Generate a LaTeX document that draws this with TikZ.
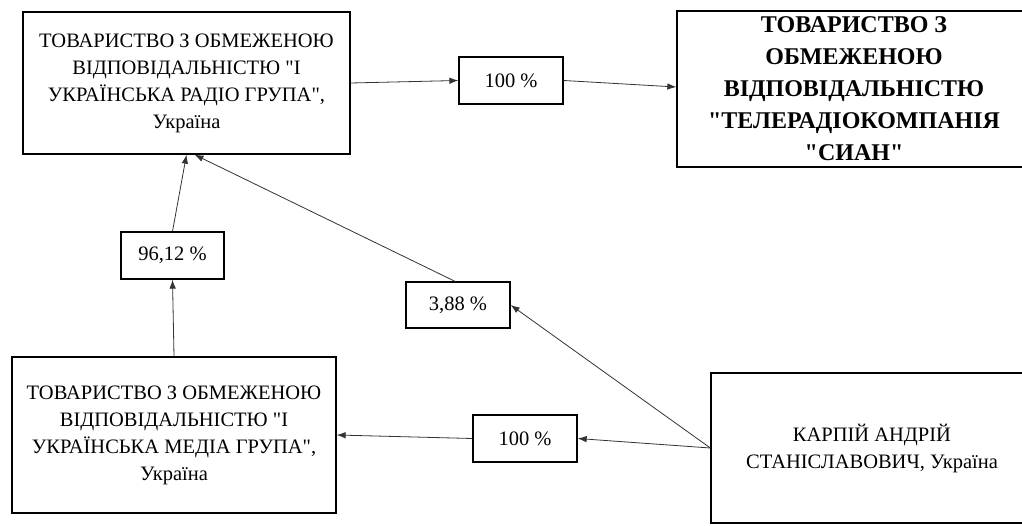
\documentclass[tikz,border=0pt]{standalone}
\usepackage{fontspec}
\setmainfont{Liberation Serif}[Ligatures=TeXOff]
\usetikzlibrary{arrows.meta}
\tikzset{
  bigbox/.style={draw=black, line width=1.3pt, fill=white, align=center, inner sep=0pt,
     font=\fontsize{20.5}{27}\selectfont},
  boldbox/.style={bigbox, font=\fontsize{24}{32}\selectfont\bfseries},
  pctbox/.style={draw=black, line width=1.3pt, fill=white, align=center, inner sep=0pt,
     minimum width=104pt, minimum height=47pt, font=\fontsize{20.5}{24}\selectfont},
  conn/.style={draw=black!80, line width=0.8pt, -{Latex[length=9pt,width=6.5pt]}}
}
\begin{document}
\begin{tikzpicture}[x=1pt,y=1pt]
\useasboundingbox (0,0) rectangle (1022,525);
\clip (0,0) rectangle (1022,525);
\fill[white] (0,0) rectangle (1022,525);
% main boxes
\node[bigbox, minimum width=327pt, minimum height=142pt] (A) at (186.5,442)
  {ТОВАРИСТВО З ОБМЕЖЕНОЮ\\ВІДПОВІДАЛЬНІСТЮ "І\\УКРАЇНСЬКА РАДІО ГРУПА",\\Україна};
\node[boldbox, minimum width=354pt, minimum height=156pt] (B) at (854,436)
  {ТОВАРИСТВО З\\ОБМЕЖЕНОЮ\\ВІДПОВІДАЛЬНІСТЮ\\"ТЕЛЕРАДІОКОМПАНІЯ\\"СИАН"};
\node[bigbox, minimum width=324pt, minimum height=156pt] (C) at (174,90)
  {ТОВАРИСТВО З ОБМЕЖЕНОЮ\\ВІДПОВІДАЛЬНІСТЮ "І\\УКРАЇНСЬКА МЕДІА ГРУПА",\\Україна};
\node[bigbox, minimum width=322pt, minimum height=150pt] (D) at (872,77)
  {КАРПІЙ АНДРІЙ\\СТАНІСЛАВОВИЧ, Україна};
% percentage boxes
\node[pctbox] (p1) at (511,444.5) {100 \%};
\node[pctbox, minimum width=103pt] (p2) at (172.5,269.5) {96,12 \%};
\node[pctbox, minimum height=46pt] (p3) at (458,220) {3,88 \%};
\node[pctbox] (p4) at (525,86.5) {100 \%};
% connectors
\draw[conn] (A.east) -- (p1.west);
\draw[conn] (p1.east) -- ([yshift=2pt]B.west);
\draw[conn] (C.north) -- (p2.south);
\draw[conn] (p2.north) -- (A.south);
\draw[conn] ([xshift=-3pt]p3.north) -- ([xshift=8pt]A.south);
\draw[conn] (D.west) -- (p3.east);
\draw[conn] (D.west) -- (p4.east);
\draw[conn] (p4.west) -- (C.east);
\end{tikzpicture}
\end{document}
